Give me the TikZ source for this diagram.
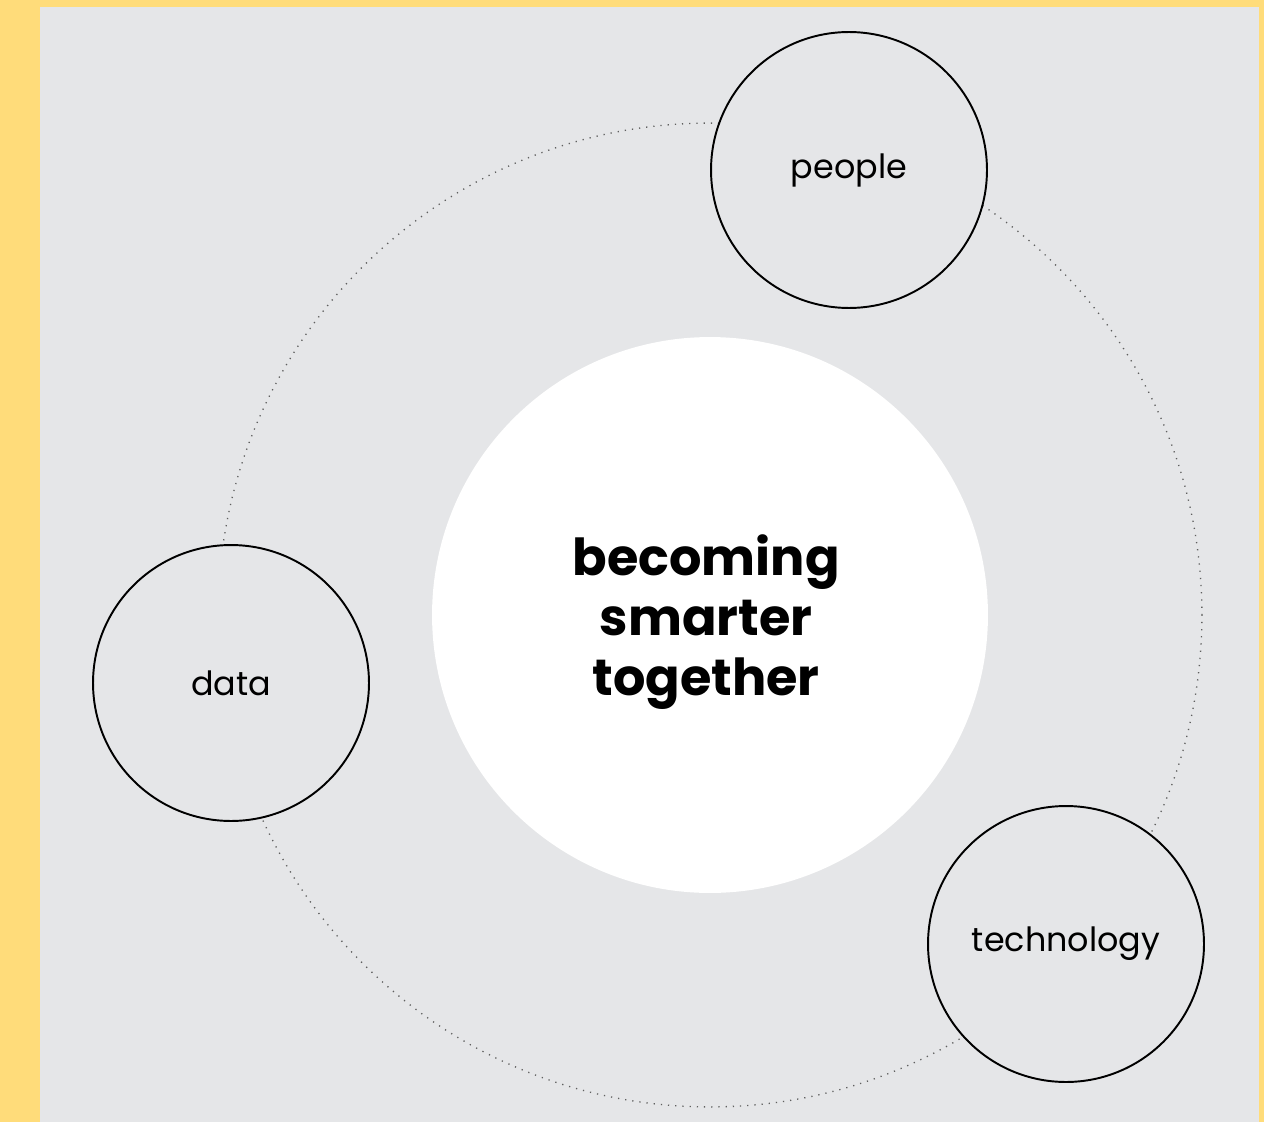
\documentclass[tikz,border=0pt]{standalone}
\usepackage{fontspec}
\setmainfont{Poppins}
\usepackage{xcolor}
\definecolor{bgyellow}{RGB}{255,220,122}
\definecolor{bggray}{RGB}{229,230,232}
\definecolor{ringgray}{RGB}{95,95,95}
\usetikzlibrary{positioning}

\begin{document}
\begin{tikzpicture}[x=0.02cm,y=-0.02cm,
  pillar/.style={draw,circle,line width=1.1pt,fill=bggray,minimum size=5.52cm,inner sep=0pt,font=\fontsize{19}{22}\selectfont},
  core/.style={circle,fill=white,minimum size=11.12cm,inner sep=0pt},
  motto/.style={align=center,font=\fontsize{29}{34}\selectfont\bfseries},
  ring/.style={ringgray,line width=0.75pt,dash pattern=on 0.7pt off 3.4pt}]
  % frame
  \fill[bgyellow] (0,0) rectangle (1264,1122);
  \fill[bggray] (40,7) rectangle (1259,1122);
  \useasboundingbox (0,0) rectangle (1264,1122);
  % centre
  \node[core] (centre) at (710,615) {};
  \node[motto] (slogan) at (706,622) {becoming\\smarter\\together};
  % dotted ring round the centre
  \draw[ring] (centre.center) circle[radius=9.84cm];
  % the three pillars
  \node[pillar] (people) at (849,170) {people};
  \node[pillar] (data) at (231,683) {data};
  \node[pillar] (tech) at (1066,944) {technology};
\end{tikzpicture}
\end{document}
